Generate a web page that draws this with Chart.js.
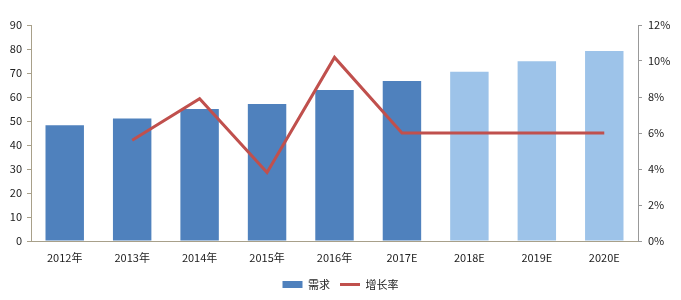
<!DOCTYPE html>
<html><head><meta charset="utf-8">
<script src="https://cdn.jsdelivr.net/npm/chart.js@4/dist/chart.umd.min.js"></script>
<style>html,body{margin:0;padding:0;background:#fff}#wrap{width:681px;height:300px}</style>
</head><body><div id="wrap"><canvas id="c" width="681" height="300"></canvas></div>
<script>
const categories = ['2012年','2013年','2014年','2015年','2016年','2017E','2018E','2019E','2020E'];
const demand = [48.2, 51.0, 55.0, 57.1, 62.9, 66.7, 70.5, 74.9, 79.2];
const growth = [null, 5.6, 7.9, 3.8, 10.2, 6.0, 6.0, 6.0, 6.0];
const leftTicks = [0,10,20,30,40,50,60,70,80,90];
const rightTicks = [0,2,4,6,8,10,12];

const dark = '#4F81BD', light = '#9DC3E9';
const barColors = categories.map(c => c.endsWith('E') && c !== '2017E' ? light : dark);
const font = {family: "'Noto Sans CJK SC', 'Open Sans', sans-serif", size: 11};

new Chart(document.getElementById('c'), {
  data: {
    labels: categories,
    datasets: [
      {type:'line', label:'增长率', data: growth, yAxisID:'y2', borderColor:'#C0504D', backgroundColor:'#C0504D',
       borderWidth:3, pointRadius:0, pointHoverRadius:0, tension:0, pointStyle:'line', order:0},
      {type:'bar', label:'需求', data: demand, yAxisID:'y', backgroundColor: barColors, borderWidth:0,
       barPercentage:0.57, categoryPercentage:1.0, pointStyle:'rect', order:1}
    ]
  },
  options: {
    responsive:false, animation:false,
    layout:{padding:{top:25, bottom:0, left:0, right:0}},
    plugins:{
      tooltip:{enabled:false},
      legend:{position:'bottom', reverse:true,
        labels:{usePointStyle:true, pointStyleWidth:20, boxHeight:7, boxWidth:20, padding:10, color:'#222', font:font}}
    },
    scales:{
      x:{offset:true, grid:{display:false, drawTicks:false, offset:true}, border:{display:true, color:'#A8A08A'},
         ticks:{font:font, color:'#222', padding:10, maxRotation:0},
         afterFit: s => { s.height = 28; }},
      y:{position:'left', min:0, max:90, afterBuildTicks: s => { s.ticks = leftTicks.map(v=>({value:v})); },
         grid:{drawOnChartArea:false, tickLength:4, color:'#A8A08A'}, border:{color:'#A8A08A'},
         ticks:{font:font, color:'#222', padding:5},
         afterFit: s => { s.width = 31; }},
      y2:{position:'right', min:0, max:12, afterBuildTicks: s => { s.ticks = rightTicks.map(v=>({value:v})); },
         grid:{drawOnChartArea:false, tickLength:4, color:'#999'}, border:{color:'#999'},
         ticks:{font:font, color:'#222', padding:6, callback: v => v + '%'},
         afterFit: s => { s.width = 43; }}
    }
  }
});
</script></body></html>
